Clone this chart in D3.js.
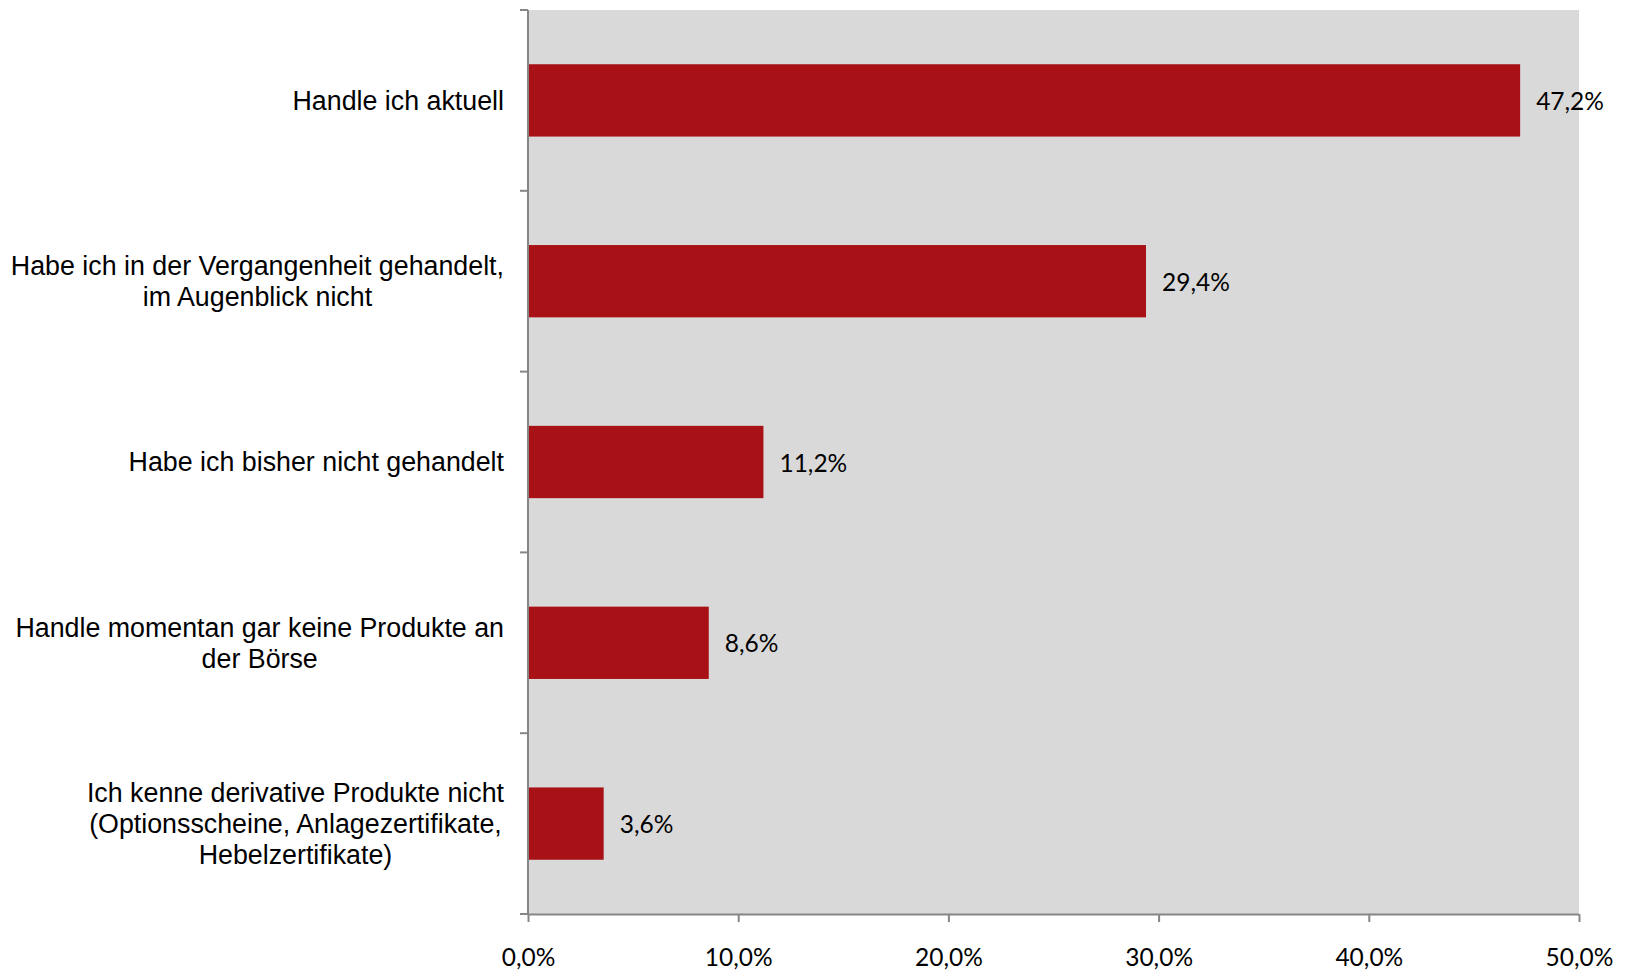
<!DOCTYPE html>
<html>
<head>
<meta charset="utf-8">
<script src="https://cdn.jsdelivr.net/npm/d3@7"></script>
<style>
body { margin: 0; background: #fff; }
svg { display: block; }
</style>
</head>
<body>
<svg id="chart" width="1627" height="970"></svg>
<script>
const categories = [
  ["Handle ich aktuell"],
  ["Habe ich in der Vergangenheit gehandelt,", "im Augenblick nicht"],
  ["Habe ich bisher nicht gehandelt"],
  ["Handle momentan gar keine Produkte an", "der Börse"],
  ["Ich kenne derivative Produkte nicht", "(Optionsscheine, Anlagezertifikate,", "Hebelzertifikate)"]
];
const values = [47.2, 29.4, 11.2, 8.6, 3.6];
const xTicks = [0, 10, 20, 30, 40, 50];

(function () {
const fmt = v => v.toFixed(1).replace(".", ",") + "%";

const svg = d3.select("#chart");
const pLeft = 528, pRight = 1579, pTop = 10, pBottom = 914;
const axisColor = "#868686";
const numFont = "Lato, 'Open Sans', sans-serif";

const x = d3.scaleLinear().domain([0, 50]).range([pLeft, pRight]);
const keys = categories.map((c, i) => i);
const y = d3.scaleBand().domain(keys).range([pTop, pBottom]).paddingInner(0.6).paddingOuter(0.3);

// plot background
svg.append("rect").attr("x", pLeft).attr("y", pTop)
  .attr("width", pRight - pLeft).attr("height", pBottom - pTop)
  .attr("fill", "#d9d9d9");

// bars
svg.selectAll("rect.bar").data(values).enter().append("rect")
  .attr("class", "bar")
  .attr("x", x(0))
  .attr("y", (d, i) => y(i))
  .attr("width", d => x(d) - x(0))
  .attr("height", y.bandwidth())
  .attr("fill", "#a81216");

// value labels
svg.selectAll("text.val").data(values).enter().append("text")
  .attr("class", "val")
  .attr("x", d => x(d) + 16)
  .attr("y", (d, i) => y(i) + y.bandwidth() / 2 + 1)
  .attr("dy", "0.35em")
  .attr("font-family", numFont)
  .attr("font-size", 24.5)
  .attr("fill", "#000")
  .text(d => fmt(d));

// x axis
const xAxis = d3.axisBottom(x).tickValues(xTicks).tickSize(8).tickPadding(27)
  .tickFormat(d => fmt(d));
const gx = svg.append("g").attr("transform", `translate(0,${pBottom})`).call(xAxis);
gx.select(".domain").attr("stroke", axisColor).attr("stroke-width", 2)
  .attr("d", `M${pLeft},0.5H${pRight}`);
gx.selectAll(".tick line").attr("stroke", axisColor).attr("stroke-width", 2);
gx.selectAll(".tick text")
  .attr("font-family", numFont)
  .attr("font-size", 24.5).attr("fill", "#000");

// y axis line and ticks at band boundaries
const step = y.step();
const boundaries = d3.range(categories.length + 1).map(i => pTop + i * step);
svg.append("line").attr("x1", pLeft).attr("x2", pLeft)
  .attr("y1", pTop).attr("y2", pBottom + 1)
  .attr("stroke", axisColor).attr("stroke-width", 2);
svg.selectAll("line.ytick").data(boundaries).enter().append("line")
  .attr("class", "ytick")
  .attr("x1", pLeft - 8).attr("x2", pLeft)
  .attr("y1", d => d).attr("y2", d => d)
  .attr("stroke", axisColor).attr("stroke-width", 2);

// category labels
const labelRight = 504;
const lineH = 31;
categories.forEach((lines, i) => {
  const cy = y(i) + y.bandwidth() / 2;
  const t = svg.append("text")
    .attr("font-family", "'Liberation Sans', Arial, sans-serif")
    .attr("font-size", 26.8)
    .attr("fill", "#000")
    .attr("text-anchor", "middle");
  const n = lines.length;
  const spans = lines.map((ln, j) => t.append("tspan")
    .attr("y", cy + (j - (n - 1) / 2) * lineH)
    .attr("dy", "0.35em")
    .text(ln));
  let maxW = 0;
  spans.forEach(s => { maxW = Math.max(maxW, s.node().getComputedTextLength()); });
  spans.forEach(s => s.attr("x", labelRight - maxW / 2));
});
})();
</script>
</body>
</html>
